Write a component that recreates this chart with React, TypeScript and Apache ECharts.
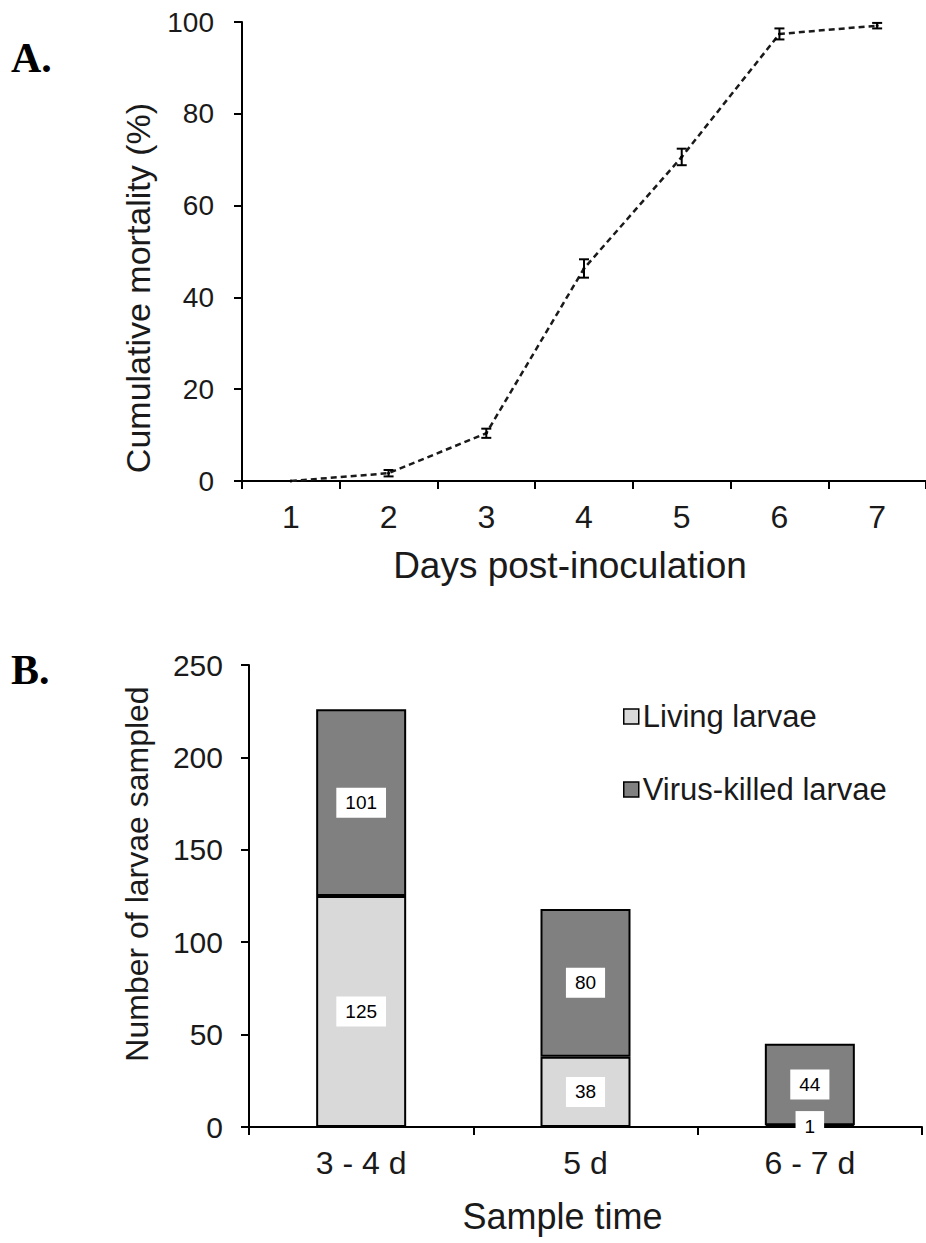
import React, { useEffect, useRef } from "react";
import * as echarts from "echarts";

const days = ["1", "2", "3", "4", "5", "6", "7"];
const mortality = [0, 1.7, 10.4, 46.3, 70.6, 97.4, 99.2];
const mortalityErr = [0, 0.7, 1.0, 2.0, 1.8, 1.2, 0.6];

const sampleTimes = ["3 - 4 d", "5 d", "6 - 7 d"];
const living = [125, 38, 1];
const virusKilled = [101, 80, 44];

const FONT = "Arial, 'Liberation Sans', sans-serif";
const SERIF = "'Liberation Serif', 'Times New Roman', serif";

export default function App() {
  const ref = useRef<HTMLDivElement>(null);
  useEffect(() => {
    if (!ref.current) return;
    const chart = echarts.init(ref.current, undefined, { renderer: "svg" });
    const axisLine = { show: true, lineStyle: { color: "#000", width: 2 } };
    const axisTick = { show: true, length: 8, lineStyle: { color: "#000", width: 2 } };
    const txt = (size: number) => ({ color: "#1a1a1a", fontSize: size, fontFamily: FONT });

    const option: any = {
      animation: false,
      backgroundColor: "#fff",
      grid: [
        { left: 242, top: 22, width: 687, height: 459, containLabel: false },
        { left: 249, top: 665, width: 673, height: 462, containLabel: false },
      ],
      xAxis: [
        {
          type: "category",
          gridIndex: 0,
          data: days,
          boundaryGap: true,
          axisLine,
          axisTick: { ...axisTick, alignWithLabel: false },
          axisLabel: { ...txt(32), margin: 20 },
          name: "Days post-inoculation",
          nameLocation: "middle",
          nameGap: 66,
          nameTextStyle: { ...txt(37), padding: [0, 28, 0, 0] },
          splitLine: { show: false },
        },
        {
          type: "category",
          gridIndex: 1,
          data: sampleTimes,
          boundaryGap: true,
          axisLine,
          axisTick: { ...axisTick, alignWithLabel: false },
          axisLabel: { ...txt(32), margin: 20 },
          name: "Sample time",
          nameLocation: "middle",
          nameGap: 71,
          nameTextStyle: { ...txt(36), padding: [0, 46, 0, 0] },
          splitLine: { show: false },
        },
      ],
      yAxis: [
        {
          type: "value",
          gridIndex: 0,
          min: 0,
          max: 100,
          interval: 20,
          axisLine,
          axisTick,
          axisLabel: { ...txt(28), margin: 28 },
          splitLine: { show: false },
          name: "Cumulative mortality (%)",
          nameLocation: "middle",
          nameGap: 87,
          nameTextStyle: { ...txt(34), padding: [0, 73, 0, 0] },
        },
        {
          type: "value",
          gridIndex: 1,
          min: 0,
          max: 250,
          interval: 50,
          axisLine,
          axisTick,
          axisLabel: { ...txt(30), margin: 26 },
          splitLine: { show: false },
          name: "Number of larvae sampled",
          nameLocation: "middle",
          nameGap: 96,
          nameTextStyle: { ...txt(32), padding: [0, 0, 0, 44] },
        },
      ],
      legend: {
        orient: "vertical",
        left: 618,
        top: 696,
        itemGap: 42,
        itemWidth: 15,
        itemHeight: 15,
        icon: "rect",
        itemStyle: { borderWidth: 1.5, borderColor: "#000" },
        textStyle: { ...txt(31), padding: [0, 0, 0, -1] },
        data: ["Living larvae", "Virus-killed larvae"],
      },
      graphic: [
        {
          type: "text",
          x: 11,
          y: 58,
          style: { text: "A.", fontSize: 42, fontWeight: "bold", fontFamily: SERIF, fill: "#000", verticalAlign: "middle" },
        },
        {
          type: "text",
          x: 11,
          y: 670,
          style: { text: "B.", fontSize: 42, fontWeight: "bold", fontFamily: SERIF, fill: "#000", verticalAlign: "middle" },
        },
      ],
      series: [
        {
          type: "line",
          xAxisIndex: 0,
          yAxisIndex: 0,
          data: mortality,
          symbol: "circle",
          symbolSize: 3,
          itemStyle: { color: "#000" },
          lineStyle: { color: "#1a1a1a", width: 2.5, type: [6, 4] },
          z: 3,
        },
        {
          type: "custom",
          xAxisIndex: 0,
          yAxisIndex: 0,
          data: mortality.map((v, i) => [i, v - mortalityErr[i], v + mortalityErr[i]]),
          renderItem: (params: any, api: any) => {
            const x = api.value(0);
            const lo = api.coord([x, api.value(1)]);
            const hi = api.coord([x, api.value(2)]);
            if (Math.abs(hi[1] - lo[1]) < 0.5) return null;
            const cap = 5;
            const style = { stroke: "#000", lineWidth: 2 };
            return {
              type: "group",
              children: [
                { type: "line", shape: { x1: lo[0], y1: lo[1], x2: hi[0], y2: hi[1] }, style },
                { type: "line", shape: { x1: lo[0] - cap, y1: lo[1], x2: lo[0] + cap, y2: lo[1] }, style },
                { type: "line", shape: { x1: hi[0] - cap, y1: hi[1], x2: hi[0] + cap, y2: hi[1] }, style },
              ],
            };
          },
          z: 4,
        },
        {
          name: "Living larvae",
          type: "bar",
          xAxisIndex: 1,
          yAxisIndex: 1,
          stack: "total",
          data: living,
          barWidth: 90,
          itemStyle: { color: "#d9d9d9", borderColor: "#000", borderWidth: 2 },
          label: {
            show: true,
            position: "inside",
            color: "#000",
            fontSize: 19,
            fontFamily: FONT,
            backgroundColor: "#fff",
            padding: [6, 9, 5, 9],
          },
        },
        {
          name: "Virus-killed larvae",
          type: "bar",
          xAxisIndex: 1,
          yAxisIndex: 1,
          stack: "total",
          data: virusKilled,
          barWidth: 90,
          itemStyle: { color: "#808080", borderColor: "#000", borderWidth: 2 },
          label: {
            show: true,
            position: "inside",
            color: "#000",
            fontSize: 19,
            fontFamily: FONT,
            backgroundColor: "#fff",
            padding: [6, 9, 5, 9],
          },
        },
      ],
    };
    chart.setOption(option);
    return () => chart.dispose();
  }, []);
  return (
    <div
      ref={ref}
      style={{ position: "absolute", left: 0, top: 0, width: 926, height: 1243, background: "#fff" }}
    />
  );
}
